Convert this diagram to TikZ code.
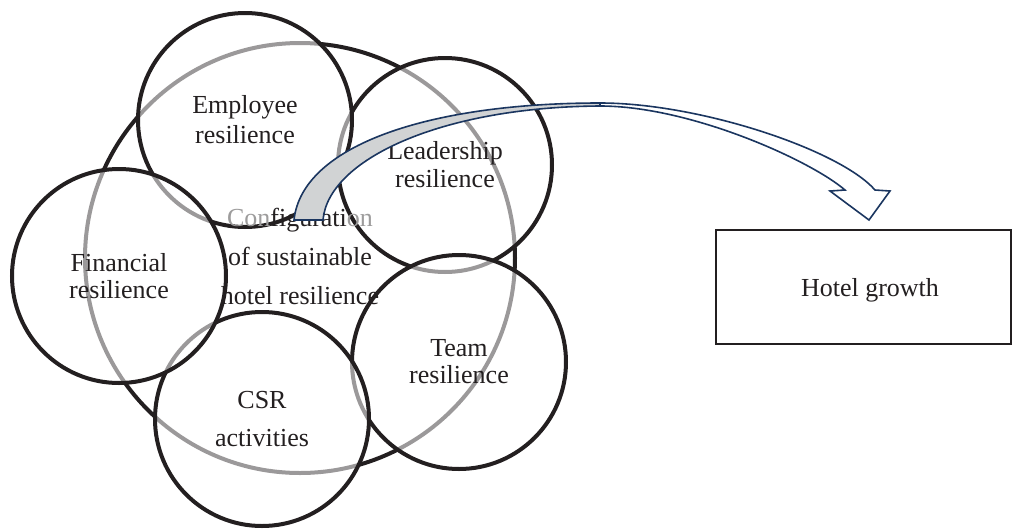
\documentclass[tikz,border=0pt]{standalone}
\usepackage{fontspec}
\setmainfont{Liberation Serif}
\definecolor{ink}{HTML}{231F20}
\definecolor{faded}{HTML}{9D9C9C}
\definecolor{navy}{HTML}{1B3660}
\definecolor{bandgray}{HTML}{D1D3D4}
\begin{document}
\begin{tikzpicture}[x=1pt,y=-1pt,
  ring/.style={circle, draw=ink, line width=4pt, fill=white, fill opacity=0.55,
    text opacity=1, inner sep=0pt, minimum size=214pt, align=center, text=ink},
  big/.style={circle, draw=ink, line width=4pt, inner sep=0pt, minimum size=430pt},
  lbl/.style={align=center, text=ink},
  band/.style={draw=navy, line width=1.6pt, line join=miter},
]
\useasboundingbox (0,0) rectangle (1013,528);

% large configuration circle
\node[big] (cfg) at (300,258) {};

% small resilience circles (order matters for the translucent overlap)
\node[ring, font=\fontsize{26}{28}\selectfont] (lead) at (445,165) {Leadership\\resilience};
\node[ring, font=\fontsize{26}{27}\selectfont] (team) at (459,362) {Team\\resilience};
\node[ring, font=\fontsize{26}{30}\selectfont] (emp) at (245,120) {Employee\\resilience};
\node[ring, font=\fontsize{26}{38}\selectfont] (csr) at (262,419) {CSR\\activities};
\node[ring, font=\fontsize{26}{27}\selectfont] (fin) at (119,276) {Financial\\resilience};

% text of the configuration circle
\node[lbl, font=\fontsize{26}{39}\selectfont] (cfgtxt) at (300,256)
  {\textcolor{faded}{Con}figurati\textcolor{faded}{on}\\of sustainable\\hotel resilience};

% outcome box
\node[draw=ink, line width=2pt, minimum width=295pt, minimum height=114pt, inner sep=0pt]
  (hg) at (863.5,287) {};
\node[lbl, font=\fontsize{26}{30}\selectfont] (hgtxt) at (870,290) {Hotel growth};

% curved block arrow
\coordinate (tailL) at (294,220);
\coordinate (tailR) at (323,220);
\coordinate (topO) at (600,103);
\coordinate (topI) at (600,106);
\coordinate (shO) at (875,190);
\coordinate (shI) at (845,190);
\coordinate (hdR) at (890,191);
\coordinate (hdL) at (830,191);
\coordinate (tip) at (869,220);
\draw[band, fill=bandgray] (tailL) .. controls (302,145) and (430,103) .. (topO)
  -- (topI) .. controls (440,107) and (328,160) .. (tailR) -- cycle;
\draw[band, fill=white] (topO) .. controls (700,103) and (840,150) .. (shO)
  -- (hdR) -- (tip) -- (hdL) -- (shI) .. controls (810,160) and (690,106) .. (topI) -- cycle;
\end{tikzpicture}
\end{document}
